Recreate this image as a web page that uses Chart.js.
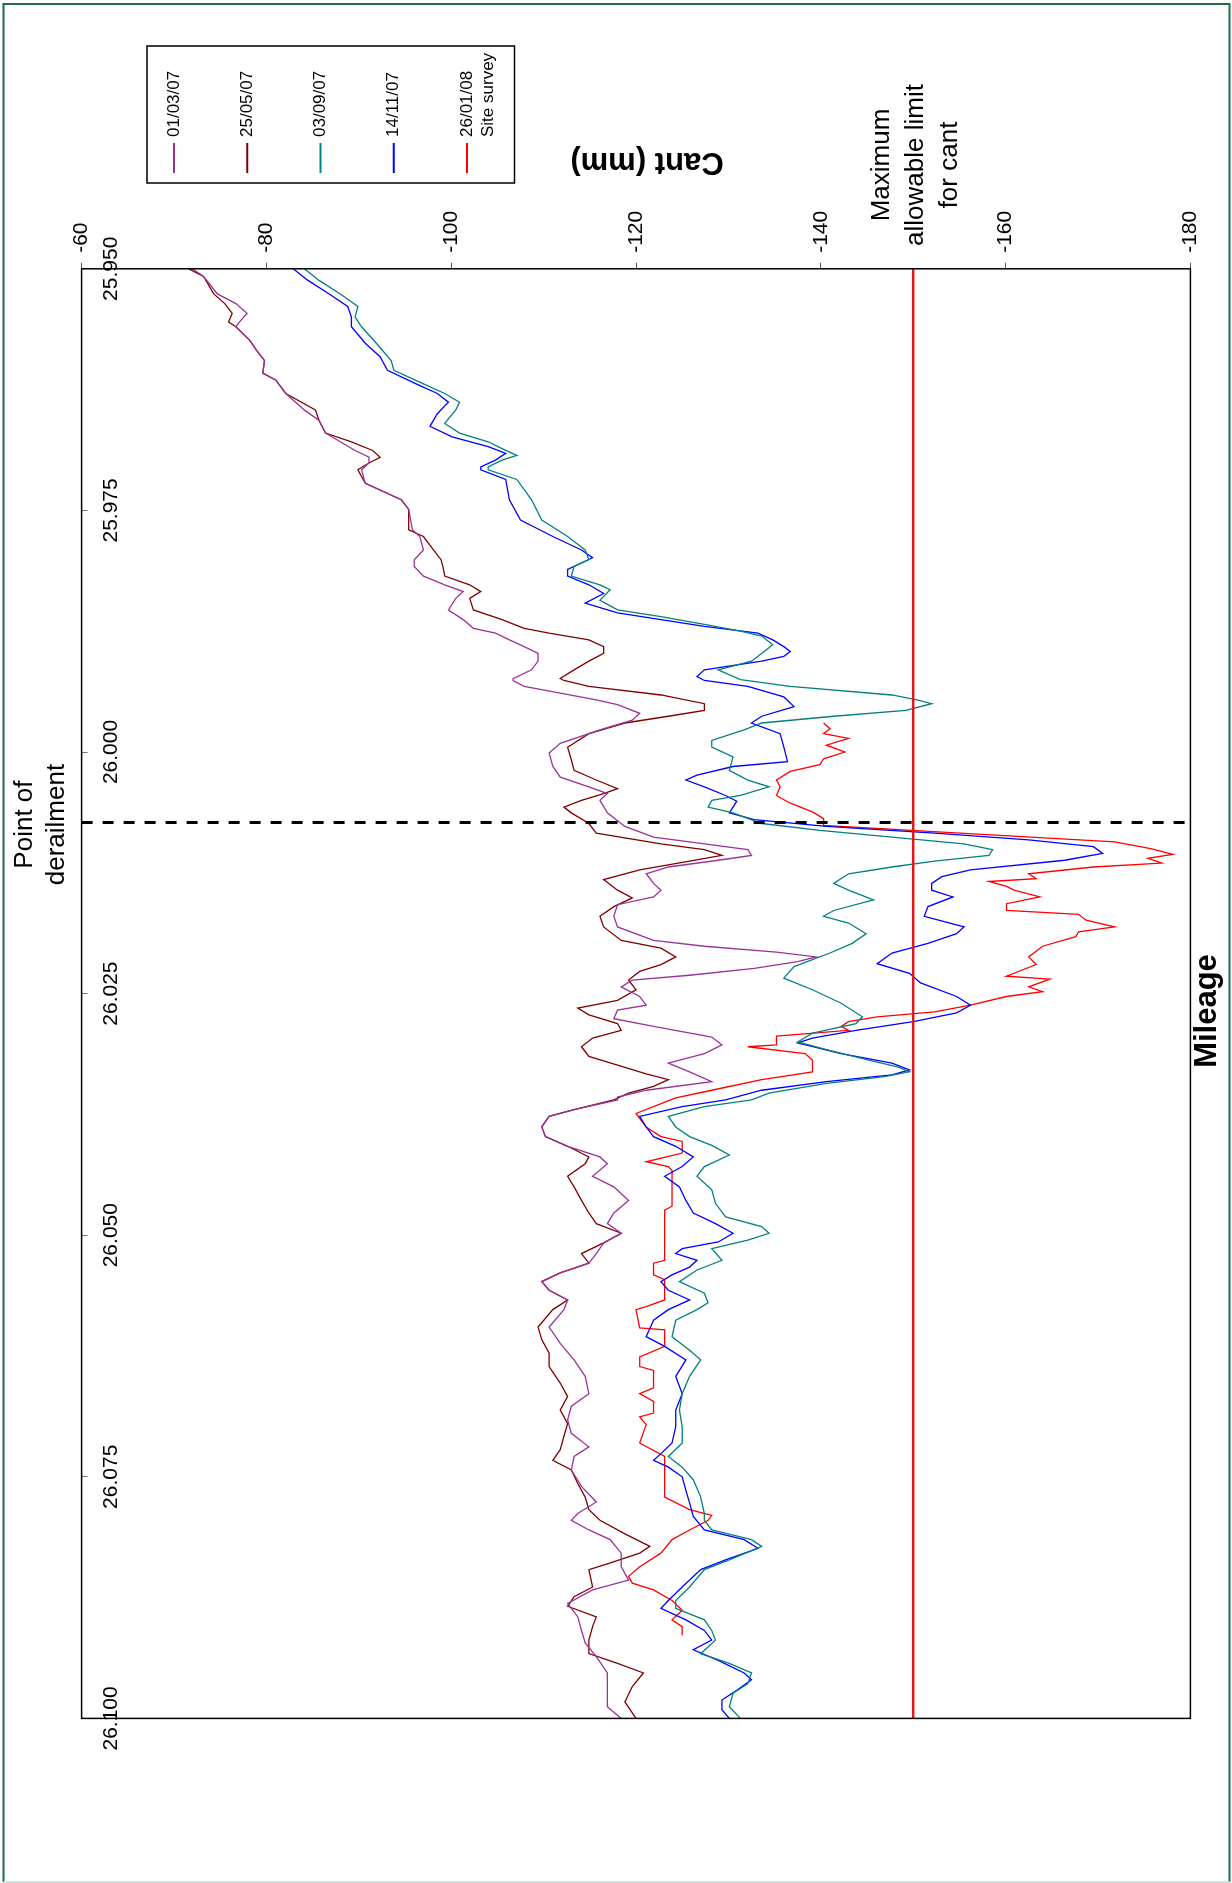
<!DOCTYPE html>
<html><head><meta charset="utf-8">
<script src="https://cdn.jsdelivr.net/npm/chart.js@4.4.0/dist/chart.umd.min.js"></script>
<style>html,body{margin:0;padding:0;background:#fff;}canvas{display:block;}</style>
</head><body>
<canvas id="c" width="1232" height="1883"></canvas>
<script>
// ---------- axis ticks ----------
const cantTicks = [-60, -80, -100, -120, -140, -160, -180];
const cantTickLabels = ['-60', '-80', '-100', '-120', '-140', '-160', '-180'];
const mileageTicks = [25.950, 25.975, 26.000, 26.025, 26.050, 26.075, 26.100];
const mileageTickLabels = ['25.950', '25.975', '26.000', '26.025', '26.050', '26.075', '26.100'];

// ---------- reference lines ----------
const limitCant = -150;
const derailMileage = 26.0073;
const limitLabel = ['Maximum', 'allowable limit', 'for cant'];
const derailLabel = ['Point of', 'derailment'];

// ---------- series names ----------
const seriesNames = ['01/03/07', '25/05/07', '03/09/07', '14/11/07', '26/01/08 Site survey'];
const legendLines = [['01/03/07'], ['25/05/07'], ['03/09/07'], ['14/11/07'], ['26/01/08', 'Site survey']];

// ---------- 01/03/07 ----------
const mil0103 = [25.9500,25.9508,25.9526,25.9536,25.9546,25.9555,25.9560,25.9574,25.9584,25.9595,25.9608,25.9615,25.9629,25.9646,25.9657,25.9670,25.9679,25.9688,25.9695,25.9701,
25.9708,25.9722,25.9739,25.9749,25.9770,25.9777,25.9791,25.9801,25.9808,25.9818,25.9827,25.9834,25.9841,25.9853,25.9863,25.9872,25.9877,25.9884,25.9891,25.9898,25.9906,25.9915,25.9924,
25.9926,25.9932,25.9939,25.9946,25.9951,25.9960,25.9967,25.9977,25.9991,26.0001,26.0015,26.0026,26.0036,26.0043,26.0050,26.0063,26.0077,26.0088,26.0095,26.0101,26.0107,26.0112,26.0119,26.0126,26.0136,
26.0143,26.0150,26.0158,26.0170,26.0181,26.0195,26.0201,26.0207,26.0212,26.0217,26.0224,26.0231,26.0236,26.0243,26.0253,26.0262,26.0267,26.0276,26.0284,26.0295,26.0303,26.0312,26.0322,26.0331,26.0341,26.0350,26.0357,
26.0360,26.0370,26.0377,26.0388,26.0398,26.0408,26.0419,26.0426,26.0439,26.0450,26.0464,26.0477,26.0488,26.0498,26.0508,26.0519,26.0529,26.0539,26.0548,26.0557,26.0567,
26.0577,26.0595,26.0612,26.0629,26.0646,26.0664,26.0677,26.0691,26.0705,26.0719,26.0729,26.0743,26.0760,26.0776,26.0788,
26.0795,26.0805,26.0815,26.0829,26.0843,26.0857,26.0867,26.0881,26.0895,26.0909,26.0922,26.0936,26.0953,26.0974,26.0988,26.1000];
const cant0103 = [-72.0,-73.2,-74.7,-76.7,-77.9,-77.1,-76.7,-78.2,-78.9,-79.8,-79.6,-81.0,-82.1,-84.1,-85.7,-86.4,-88.0,-89.6,-91.1,-91.1,
-90.3,-90.7,-94.6,-95.4,-95.8,-96.6,-97.0,-96.0,-96.0,-97.0,-99.3,-101.3,-100.5,-99.7,-101.3,-102.4,-104.8,-106.3,-107.9,-109.4,-109.4,-108.7,-106.7,
-106.7,-107.9,-111.8,-115.7,-118.0,-120.4,-119.6,-116.1,-111.8,-110.6,-111.0,-111.8,-114.9,-116.9,-116.1,-116.9,-118.8,-121.9,-127.4,-132.1,-132.5,-128.9,-123.5,-121.1,-121.9,
-122.7,-121.9,-118.0,-117.6,-118.0,-121.9,-127.4,-135.2,-139.5,-137.5,-132.8,-125.8,-119.6,-118.4,-120.4,-121.1,-118.0,-117.6,-121.9,-128.2,-129.3,-127.4,-123.5,-125.8,-128.2,-121.1,-118.0,
-118.0,-113.3,-110.6,-109.8,-110.2,-112.6,-116.1,-116.9,-115.3,-117.6,-119.2,-117.6,-116.9,-118.4,-116.5,-115.7,-114.9,-111.8,-109.8,-110.6,-112.6,
-112.2,-110.6,-111.8,-113.3,-114.5,-114.9,-113.0,-112.6,-113.0,-114.9,-113.3,-113.0,-114.1,-115.7,-113.7,
-113.0,-114.9,-117.2,-118.4,-118.4,-119.2,-115.3,-112.6,-113.7,-114.1,-114.5,-115.7,-116.9,-116.9,-116.9,-118.4];

// ---------- 25/05/07 ----------
const mil2505 = [25.9500,25.9508,25.9526,25.9536,25.9546,25.9555,25.9560,25.9574,25.9584,25.9595,25.9608,25.9615,25.9629,25.9646,25.9657,25.9670,25.9679,25.9688,25.9695,25.9701,
25.9708,25.9722,25.9739,25.9749,25.9770,25.9777,25.9791,25.9801,25.9808,25.9818,25.9827,25.9834,25.9841,25.9853,25.9863,25.9872,25.9877,25.9884,25.9891,25.9898,25.9906,25.9915,25.9924,
25.9926,25.9932,25.9941,25.9950,25.9957,25.9963,25.9970,25.9981,25.9995,26.0008,26.0019,26.0029,26.0038,26.0043,26.0050,26.0057,26.0063,26.0074,26.0084,26.0095,26.0101,26.0107,26.0113,26.0122,26.0132,
26.0143,26.0151,26.0160,26.0170,26.0181,26.0195,26.0203,26.0212,26.0220,26.0227,26.0236,26.0246,26.0257,26.0265,26.0272,26.0281,26.0288,26.0296,26.0305,26.0315,26.0324,26.0333,26.0339,26.0346,26.0353,
26.0360,26.0370,26.0377,26.0388,26.0398,26.0408,26.0419,26.0426,26.0439,26.0450,26.0464,26.0477,26.0488,26.0498,26.0508,26.0519,26.0529,26.0539,26.0548,26.0557,26.0567,
26.0577,26.0595,26.0608,26.0622,26.0636,26.0653,26.0667,26.0681,26.0695,26.0708,26.0722,26.0733,26.0743,26.0757,26.0771,26.0784,
26.0795,26.0809,26.0822,26.0829,26.0840,26.0846,26.0864,26.0874,26.0884,26.0895,26.0905,26.0919,26.0933,26.0943,26.0953,26.0967,26.0983,26.1000];
const cant2505 = [-71.6,-73.2,-74.3,-75.5,-76.3,-75.9,-76.7,-78.2,-78.9,-79.8,-79.6,-81.0,-82.1,-85.3,-85.7,-86.4,-89.2,-91.5,-92.3,-91.1,
-89.9,-90.7,-94.6,-95.4,-95.4,-97.0,-98.1,-98.9,-99.1,-99.3,-102.0,-103.2,-102.0,-102.4,-105.5,-107.9,-110.6,-114.9,-116.5,-116.5,-114.9,-113.3,-111.8,
-112.2,-114.9,-122.7,-127.4,-127.4,-123.5,-118.8,-114.9,-112.6,-113.0,-113.3,-115.7,-118.0,-116.5,-114.1,-112.2,-113.0,-114.9,-115.7,-122.7,-127.4,-129.3,-125.8,-120.4,-116.5,
-118.0,-119.6,-117.6,-116.1,-116.5,-118.4,-122.7,-124.3,-122.7,-120.4,-119.2,-120.0,-118.0,-113.7,-114.9,-118.0,-118.4,-115.3,-114.1,-114.9,-118.0,-121.1,-123.5,-121.9,-119.2,
-117.6,-113.3,-110.6,-109.8,-110.2,-112.6,-114.9,-114.5,-112.6,-113.3,-114.1,-114.9,-115.7,-118.4,-116.5,-114.1,-114.9,-111.8,-109.8,-110.6,-112.6,
-111.0,-109.4,-109.8,-110.6,-110.6,-111.8,-112.6,-111.8,-112.6,-112.2,-111.8,-111.0,-113.0,-113.7,-114.5,-114.9,
-116.1,-118.8,-121.5,-120.4,-116.9,-114.9,-115.3,-113.3,-112.6,-115.7,-115.3,-114.9,-114.9,-118.0,-120.8,-119.6,-118.8,-120.0];

// ---------- 03/09/07 ----------
const mil0309 = [25.9500,25.9512,25.9526,25.9539,25.9550,25.9560,25.9577,25.9595,25.9605,25.9619,25.9629,25.9638,25.9646,25.9660,25.9670,25.9679,25.9686,25.9693,25.9698,25.9705,
25.9708,25.9718,25.9739,25.9760,25.9777,25.9791,25.9801,25.9808,25.9818,25.9827,25.9832,25.9843,25.9853,25.9860,25.9868,25.9875,25.9880,25.9889,25.9898,25.9906,25.9915,25.9925,
25.9932,25.9941,25.9946,25.9950,25.9957,25.9963,25.9970,25.9977,25.9988,25.9995,26.0005,26.0019,26.0029,26.0036,26.0045,26.0050,26.0057,26.0063,26.0074,26.0081,26.0088,26.0095,26.0101,26.0107,26.0113,26.0119,26.0126,26.0136,
26.0143,26.0153,26.0164,26.0170,26.0177,26.0188,26.0198,26.0208,26.0222,26.0234,26.0246,26.0260,26.0274,26.0281,26.0291,26.0300,26.0308,26.0319,26.0326,26.0331,26.0336,26.0343,26.0353,
26.0360,26.0367,26.0377,26.0388,26.0398,26.0407,26.0417,26.0429,26.0439,26.0453,26.0467,26.0481,26.0491,26.0498,26.0505,26.0514,26.0526,26.0536,26.0548,26.0560,26.0570,
26.0577,26.0588,26.0605,26.0619,26.0629,26.0646,26.0664,26.0681,26.0698,26.0715,26.0729,26.0740,26.0753,26.0771,26.0788,
26.0795,26.0805,26.0815,26.0822,26.0836,26.0846,26.0864,26.0878,26.0886,26.0898,26.0909,26.0919,26.0933,26.0943,26.0953,26.0964,26.0974,26.0988,26.1000];
const cant0309 = [-84.1,-85.7,-88.0,-89.9,-89.6,-90.3,-91.9,-93.5,-93.8,-97.0,-99.3,-100.9,-100.5,-99.3,-100.9,-104.0,-105.5,-107.1,-105.5,-104.0,
-104.0,-107.1,-108.7,-109.8,-112.6,-114.5,-114.9,-113.3,-113.0,-116.1,-117.2,-116.1,-118.0,-122.7,-127.4,-131.3,-133.6,-134.8,-133.6,-132.5,-128.9,-131.3,
-136.7,-147.7,-150.4,-152.0,-149.2,-141.4,-133.6,-131.7,-128.2,-128.2,-130.5,-130.1,-132.1,-134.4,-131.3,-128.2,-127.8,-130.5,-133.6,-139.9,-147.7,-155.5,-158.6,-158.2,-152.3,-147.7,-143.0,-141.4,
-143.0,-145.7,-141.4,-140.3,-143.0,-144.9,-143.4,-141.0,-137.1,-136.0,-139.1,-142.2,-144.5,-143.8,-139.1,-137.5,-140.6,-145.3,-148.4,-149.6,-146.9,-140.6,-134.4,
-132.5,-127.4,-123.5,-124.3,-125.8,-128.2,-130.1,-127.4,-126.6,-128.2,-128.6,-129.7,-133.6,-134.4,-132.1,-128.2,-129.3,-126.6,-124.7,-127.4,-127.8,
-126.6,-124.3,-123.9,-125.8,-127.0,-125.8,-125.0,-124.7,-125.0,-125.0,-123.5,-125.0,-126.2,-127.0,-127.4,
-127.4,-128.2,-132.5,-133.6,-130.1,-127.4,-125.8,-124.3,-124.3,-127.4,-128.2,-128.6,-127.0,-130.1,-132.5,-132.1,-130.5,-130.1,-131.3];

// ---------- 14/11/07 ----------
const mil1411 = [25.9500,25.9512,25.9526,25.9539,25.9550,25.9560,25.9577,25.9591,25.9605,25.9619,25.9629,25.9638,25.9650,25.9663,25.9674,25.9684,25.9691,25.9698,25.9705,
25.9708,25.9718,25.9739,25.9760,25.9777,25.9791,25.9799,25.9811,25.9818,25.9827,25.9836,25.9846,25.9856,25.9863,25.9870,25.9877,25.9884,25.9891,25.9896,25.9901,25.9906,25.9915,25.9922,
25.9926,25.9932,25.9943,25.9953,25.9963,25.9970,25.9981,25.9995,26.0010,26.0015,26.0024,26.0029,26.0036,26.0045,26.0051,26.0057,26.0063,26.0070,26.0077,26.0084,26.0091,26.0098,26.0105,26.0112,26.0122,26.0129,26.0136,
26.0143,26.0150,26.0160,26.0170,26.0181,26.0188,26.0198,26.0208,26.0219,26.0229,26.0239,26.0253,26.0262,26.0270,26.0279,26.0288,26.0296,26.0301,26.0312,26.0322,26.0329,26.0334,26.0341,26.0350,
26.0360,26.0367,26.0377,26.0388,26.0398,26.0408,26.0419,26.0429,26.0439,26.0450,26.0464,26.0477,26.0488,26.0498,26.0507,26.0514,26.0519,26.0526,26.0533,26.0541,26.0548,26.0557,26.0567,
26.0577,26.0588,26.0605,26.0615,26.0629,26.0646,26.0664,26.0681,26.0698,26.0715,26.0726,26.0733,26.0740,26.0750,26.0764,26.0777,26.0791,
26.0805,26.0815,26.0824,26.0836,26.0846,26.0864,26.0878,26.0886,26.0898,26.0909,26.0919,26.0929,26.0940,26.0953,26.0960,26.0971,26.0981,26.0991,26.1000];
const cant1411 = [-82.9,-84.5,-86.8,-88.8,-89.2,-89.2,-90.7,-92.3,-93.1,-96.2,-98.5,-99.7,-98.5,-97.7,-100.1,-104.0,-105.9,-104.8,-103.2,
-103.2,-105.9,-106.3,-107.5,-111.0,-114.1,-115.3,-112.6,-112.6,-114.9,-116.5,-114.5,-118.0,-122.7,-127.4,-133.2,-134.8,-136.0,-136.7,-136.0,-133.6,-127.4,-126.6,
-127.4,-132.1,-136.0,-137.1,-133.6,-132.5,-135.6,-136.0,-136.4,-130.5,-126.6,-125.4,-127.4,-129.7,-130.9,-130.5,-130.1,-132.8,-140.6,-152.3,-162.5,-169.5,-170.5,-166.4,-156.2,-153.1,-152.0,
-152.0,-154.3,-151.6,-151.2,-155.5,-154.7,-151.6,-147.7,-146.1,-149.6,-150.8,-154.7,-156.2,-154.7,-150.0,-143.8,-139.1,-137.5,-142.2,-147.7,-149.6,-147.7,-140.6,-133.6,
-129.7,-125.0,-120.4,-121.1,-121.9,-124.3,-126.2,-125.0,-123.1,-124.7,-125.4,-126.2,-128.6,-130.5,-128.9,-125.0,-124.3,-126.6,-125.8,-123.9,-122.7,-123.5,-125.8,
-123.5,-121.9,-121.1,-123.1,-125.4,-124.3,-125.0,-124.3,-124.3,-123.9,-122.7,-121.9,-123.5,-125.0,-125.4,-125.8,-126.2,
-127.4,-131.7,-133.2,-129.7,-127.0,-125.0,-123.5,-122.7,-125.4,-127.4,-128.2,-126.2,-128.9,-131.7,-132.5,-130.9,-129.3,-129.3,-130.1];

// ---------- 26/01/08 Site survey ----------
const mil2601 = [25.9970,25.9976,25.9981,25.9986,25.9993,26.0000,26.0007,26.0013,26.0020,26.0029,26.0036,26.0045,26.0053,26.0062,26.0069,26.0076,26.0093,26.0100,26.0106,26.0110,26.0115,26.0119,26.0126,26.0131,26.0134,26.0139,
26.0143,26.0150,26.0157,26.0164,26.0168,26.0174,26.0181,26.0186,26.0191,26.0201,26.0212,26.0220,26.0232,26.0235,26.0243,26.0248,26.0253,26.0262,26.0269,26.0274,26.0279,26.0284,26.0288,26.0294,26.0303,26.0305,26.0312,26.0319,26.0331,26.0339,26.0350,26.0358,
26.0374,26.0388,26.0398,26.0403,26.0415,26.0424,26.0429,26.0433,26.0470,26.0474,26.0526,26.0529,26.0541,26.0546,26.0567,26.0574,26.0577,
26.0596,26.0598,26.0615,26.0626,26.0636,26.0640,26.0658,26.0664,26.0672,26.0684,26.0688,26.0696,26.0715,26.0729,26.0771,26.0784,26.0790,
26.0795,26.0805,26.0815,26.0829,26.0843,26.0853,26.0860,26.0867,26.0878,26.0888,26.0898,26.0905,26.0914];
const cant2601 = [-140.3,-141.0,-140.3,-143.0,-140.6,-142.6,-140.3,-139.9,-136.7,-135.2,-135.6,-135.2,-136.7,-139.1,-140.3,-140.3,-171.8,-175.7,-178.1,-175.4,-176.9,-169.5,-162.5,-163.3,-158.2,-160.1,
-160.9,-163.7,-160.1,-160.1,-167.9,-168.7,-171.8,-167.9,-167.6,-164.0,-162.5,-163.3,-160.1,-164.8,-162.5,-164.0,-160.1,-156.2,-152.3,-146.1,-143.0,-142.2,-143.0,-135.2,-135.2,-132.1,-138.3,-139.1,-139.1,-133.6,-128.2,-124.3,
-120.0,-121.1,-122.7,-125.0,-125.0,-121.1,-123.5,-123.9,-123.9,-123.1,-123.1,-121.9,-121.9,-123.1,-123.1,-121.1,-120.0,
-120.4,-123.1,-123.1,-120.4,-120.4,-121.9,-121.9,-120.4,-121.9,-121.9,-120.4,-121.1,-120.4,-123.1,-123.1,-125.8,-128.2,
-127.8,-125.8,-123.9,-122.7,-120.4,-119.2,-119.6,-121.9,-123.9,-125.0,-123.9,-125.0,-125.0];

const seriesMileage = [mil0103, mil2505, mil0309, mil1411, mil2601];
const seriesCant = [cant0103, cant2505, cant0309, cant1411, cant2601];
const seriesColors = ['#993399', '#800000', '#008080', '#0000FF', '#FF0000'];

const FONT = "'Liberation Sans', Arial, Helvetica, sans-serif";
const zip = (ms, cs) => ms.map((m, i) => ({x: cs[i], y: m}));

const datasets = [
  {label: 'Maximum allowable limit for cant', data: [{x: limitCant, y: 25.95}, {x: limitCant, y: 26.1}],
   borderColor: '#E01A1A', borderWidth: 2.5, order: 0},
  {label: 'Point of derailment', data: [{x: -60, y: derailMileage}, {x: -180, y: derailMileage}],
   borderColor: '#000000', borderWidth: 3, borderDash: [11, 10], order: 1}
];
seriesNames.forEach((n, i) => datasets.push({
  label: n, data: zip(seriesMileage[i], seriesCant[i]),
  borderColor: seriesColors[i], borderWidth: 1.3, order: 2 + i
}));

function rotText(ctx, text, x, y, angle, font, align, baseline) {
  ctx.save();
  ctx.translate(x, y); ctx.rotate(angle);
  ctx.font = font; ctx.textAlign = align; ctx.textBaseline = baseline;
  ctx.fillStyle = '#000'; ctx.fillText(text, 0, 0);
  ctx.restore();
}

const decor = {
  id: 'decor',
  beforeDraw(chart) {
    const ctx = chart.ctx;
    ctx.save();
    ctx.fillStyle = '#fff'; ctx.fillRect(0, 0, chart.width, chart.height);
    ctx.strokeStyle = '#1b6e47'; ctx.lineWidth = 2;
    ctx.beginPath(); ctx.moveTo(3.5, 1882); ctx.lineTo(3.5, 4); ctx.lineTo(1229.5, 4); ctx.lineTo(1229.5, 1882); ctx.stroke();
    ctx.strokeStyle = '#cfe3da';
    ctx.beginPath(); ctx.moveTo(3.5, 1882); ctx.lineTo(1229.5, 1882); ctx.stroke();
    ctx.restore();
  },
  afterDatasetsDraw(chart) {
    const {ctx, chartArea: a, scales: {x, y}} = chart;
    ctx.save();
    ctx.strokeStyle = '#000'; ctx.lineWidth = 1.5;
    ctx.strokeRect(a.left, a.top, a.right - a.left, a.bottom - a.top);
    ctx.restore();
    const R = -Math.PI / 2;
    cantTicks.forEach((v, i) => rotText(ctx, cantTickLabels[i], x.getPixelForValue(v), a.top - 16, R, '21px ' + FONT, 'left', 'middle'));
    mileageTicks.forEach((v, i) => rotText(ctx, mileageTickLabels[i], a.left + 29.5, y.getPixelForValue(v), R, '21px ' + FONT, 'center', 'middle'));
    rotText(ctx, 'Cant (mm)', 647, 162, Math.PI, 'bold 31px ' + FONT, 'center', 'middle');
    rotText(ctx, 'Mileage', 1207.5, 1011, R, 'bold 31px ' + FONT, 'center', 'middle');
    const lx = x.getPixelForValue(limitCant);
    limitLabel.forEach((t, i) => rotText(ctx, t, lx - 24 + i * 34, 165, R, '26px ' + FONT, 'center', 'alphabetic'));
    const dy = y.getPixelForValue(derailMileage) + 2;
    derailLabel.forEach((t, i) => rotText(ctx, t, 31.5 + i * 32.5, dy, R, '26px ' + FONT, 'center', 'alphabetic'));
    // legend
    ctx.save();
    ctx.fillStyle = '#fff'; ctx.fillRect(147, 46, 367.5, 137);
    ctx.strokeStyle = '#000'; ctx.lineWidth = 1.5; ctx.strokeRect(147, 46, 367.5, 137);
    legendLines.forEach((lines, i) => {
      const lxp = 174 + i * 73.25;
      ctx.strokeStyle = seriesColors[i]; ctx.lineWidth = 2;
      ctx.beginPath(); ctx.moveTo(lxp, 143); ctx.lineTo(lxp, 173); ctx.stroke();
      lines.forEach((t, j) => rotText(ctx, t, lxp + j * 21, 137, R, '17px ' + FONT, 'left', 'middle'));
    });
    ctx.restore();
  }
};

new Chart(document.getElementById('c'), {
  type: 'line',
  data: {datasets},
  options: {
    responsive: false, animation: false, devicePixelRatio: 1,
    layout: {autoPadding: false, padding: {left: 81.6, top: 268.8, right: 41.6, bottom: 164.6}},
    plugins: {legend: {display: false}, tooltip: {enabled: false}},
    elements: {point: {radius: 0, hoverRadius: 0}, line: {tension: 0, fill: false}},
    scales: {
      x: {type: 'linear', position: 'top', min: -180, max: -60, reverse: true,
          afterBuildTicks: s => { s.ticks = cantTicks.map(v => ({value: v})); },
          afterFit: s => { s.height = 0; },
          ticks: {display: false},
          grid: {drawOnChartArea: false, drawTicks: true, tickLength: 6, color: '#555', lineWidth: 1},
          border: {display: false}},
      y: {type: 'linear', position: 'left', min: 25.95, max: 26.1, reverse: true,
          afterBuildTicks: s => { s.ticks = mileageTicks.map(v => ({value: v})); },
          afterFit: s => { s.width = 0; },
          ticks: {display: false},
          grid: {drawOnChartArea: false, drawTicks: true, tickLength: -6, color: '#777', lineWidth: 1},
          border: {display: false}}
    }
  },
  plugins: [decor]
});
</script>
</body></html>
